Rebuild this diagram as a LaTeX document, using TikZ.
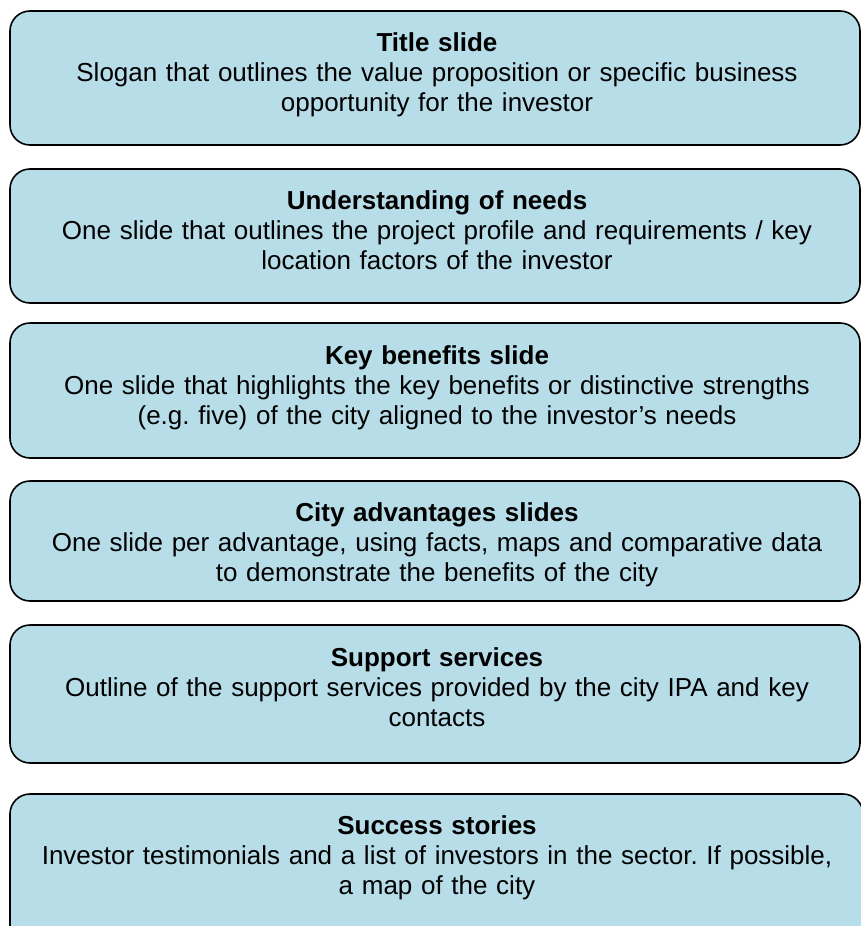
\documentclass[tikz,border=0pt]{standalone}
\usepackage{fontspec}
\setmainfont{Liberation Sans}
\frenchspacing
\definecolor{boxfill}{HTML}{B7DDE8}
\tikzset{
  slidebox/.style={draw=black, line width=1.6pt, fill=boxfill, rounded corners=20pt},
  slidetext/.style={anchor=north, align=center, text width=850pt, inner sep=0pt,
     font=\fontsize{26pt}{30pt}\selectfont}
}
\begin{document}
\begin{tikzpicture}[x=1pt,y=-1pt]
\useasboundingbox (0,0) rectangle (861,926);
\clip (0,0) rectangle (861,926);
\draw[slidebox] (10,11) rectangle (860,145);
\draw[slidebox] (10,169) rectangle (860,303);
\draw[slidebox] (10,323) rectangle (860,458);
\draw[slidebox] (10,481) rectangle (860,601);
\draw[slidebox] (10,625) rectangle (860,763);
\draw[slidebox] (10,794) rectangle (863,960);
\node[slidetext] (t1) at (437,32) {\textbf{Title slide}\\Slogan that outlines the value proposition or specific business\\opportunity for the investor};
\node[slidetext] (t2) at (437,190) {\textbf{Understanding of needs}\\One slide that outlines the project profile and requirements / key\\location factors of the investor};
\node[slidetext] (t3) at (437,345) {\textbf{Key benefits slide}\\One slide that highlights the key benefits or distinctive strengths\\(e.g. five) of the city aligned to the investor’s needs};
\node[slidetext] (t4) at (437,502) {\textbf{City advantages slides}\\One slide per advantage, using facts, maps and comparative data\\to demonstrate the benefits of the city};
\node[slidetext] (t5) at (437,647) {\textbf{Support services}\\Outline of the support services provided by the city IPA and key\\contacts};
\node[slidetext] (t6) at (437,815) {\textbf{Success stories}\\Investor testimonials and a list of investors in the sector. If possible,\\a map of the city};
\end{tikzpicture}
\end{document}
